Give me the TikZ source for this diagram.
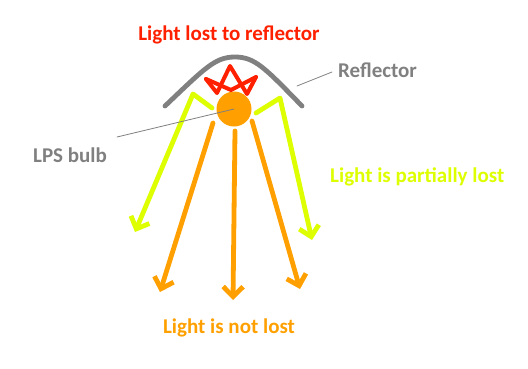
\documentclass[tikz,border=0pt]{standalone}
\usepackage{fontspec}
\setmainfont{Carlito}
\usetikzlibrary{arrows.meta}

\definecolor{lostred}{RGB}{255,32,0}
\definecolor{partyellow}{RGB}{221,255,0}
\definecolor{bulborange}{RGB}{255,160,0}
\definecolor{refgray}{RGB}{128,128,128}

\begin{document}
\begin{tikzpicture}[x=1pt,y=-1pt,line cap=round,line join=round,
    ray/.style={line width=4.8pt,-{Straight Barb[length=10pt,width=20pt]}},
    label/.style={font=\fontsize{21}{24}\selectfont\bfseries,inner sep=0pt},
    pointer/.style={refgray,line width=0.8pt}]
  \useasboundingbox (0,0) rectangle (528,368);
  % reflector and bulb
  \draw[refgray,line width=4.8pt] (165,106) .. controls (205,68) and (215,57) .. (235,57)
    .. controls (255,57) and (265,68) .. (302,106);
  \node[circle,fill=bulborange,minimum size=35pt,inner sep=0pt] (bulb) at (234,109) {};
  % light lost to the reflector
  \draw[lostred,line width=4pt] (206,79) -- (217,93) -- (230,66) -- (247,94) -- (256,77);
  \draw[lostred,line width=4pt] (206,79) -- (231,90) -- (256,77);
  % rays
  \coordinate (yl0) at (212,108); \coordinate (yl1) at (193,94); \coordinate (yl2) at (135,232);
  \coordinate (yr0) at (256,113); \coordinate (yr1) at (280,98); \coordinate (yr2) at (312,240);
  \draw[ray,partyellow] (yl0) -- (yl1) -- (yl2);
  \draw[ray,partyellow] (yr0) -- (yr1) -- (yr2);
  \coordinate (ol0) at (213,123); \coordinate (ol1) at (160,292);
  \coordinate (om0) at (235,131); \coordinate (om1) at (233,300);
  \coordinate (or0) at (252,121); \coordinate (or1) at (300,289);
  \draw[ray,bulborange] (ol0) -- (ol1);
  \draw[ray,bulborange] (om0) -- (om1);
  \draw[ray,bulborange] (or0) -- (or1);
  % labels
  \node[label,lostred] (lost) at (229,35) {Light lost to reflector};
  \node[label,refgray,anchor=west] (refl) at (338,70) {Reflector};
  \node[label,refgray] (lps) at (70,155) {LPS bulb};
  \node[label,partyellow,anchor=west] (part) at (330,177) {Light is partially lost};
  \node[label,bulborange] (notlost) at (229,328) {Light is not lost};
  \coordinate (reflpt) at (297,86);
  \draw[pointer] (reflpt) -- ([xshift=-6pt,yshift=-2pt]refl.west);
  \coordinate (lpsend) at (117,137);
  \draw[pointer] (lpsend) -- (bulb.center);
\end{tikzpicture}
\end{document}
